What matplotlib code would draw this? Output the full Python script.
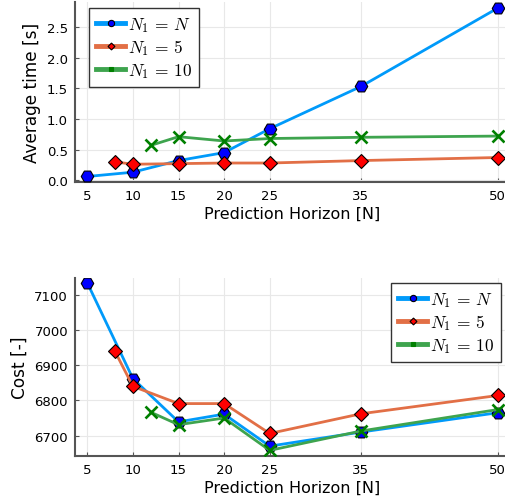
import numpy as np
import matplotlib.pyplot as plt
from matplotlib.lines import Line2D

plt.rcParams['mathtext.fontset'] = 'cm'

# horizons
x_full = [5, 10, 15, 20, 25, 35, 50]
x_n5 = [8, 10, 15, 20, 25, 35, 50]
x_n10 = [12, 15, 20, 25, 35, 50]
xticks = [5, 10, 15, 20, 25, 35, 50]

# average solve time [s]
time_full = [0.06, 0.13, 0.32, 0.45, 0.84, 1.53, 2.81]
time_n5 = [0.30, 0.26, 0.27, 0.28, 0.28, 0.32, 0.37]
time_n10 = [0.57, 0.71, 0.64, 0.68, 0.70, 0.72]

# cost
cost_full = [7134, 6862, 6739, 6761, 6670, 6710, 6765]
cost_n5 = [6941, 6840, 6791, 6791, 6706, 6762, 6814]
cost_n10 = [6766, 6731, 6750, 6658, 6713, 6774]

labels = [r'$N_1\,=\,N$', r'$N_1\,=\,5$', r'$N_1\,=\,10$']

c_blue = '#009AFA'
c_red = '#E26F46'
c_green = '#3EA44E'

W, H = 505.0, 502.0
AX_W = 435.0


def style_axes(ax):
    for s in ['top', 'right']:
        ax.spines[s].set_visible(False)
    for s in ['left', 'bottom']:
        ax.spines[s].set_color('#555555')
        ax.spines[s].set_linewidth(1.5)
    ax.grid(True, color='#e8e8e8', linewidth=0.8)
    ax.set_axisbelow(True)
    ax.tick_params(direction='in', length=3, color='#555555', labelsize=9.5, pad=5)
    ax.set_xticks(xticks)
    ax.set_xlim(3.65, 51.35)
    ax.set_xlabel('Prediction Horizon [N]', fontsize=11.5, labelpad=3)


def draw(ax, yf, y5, y10):
    ax.plot(x_full, yf, color=c_blue, lw=2.0, marker='H', ms=9,
            mfc='#0000FF', mec='black', mew=0.8, zorder=3)
    ax.plot(x_n5, y5, color=c_red, lw=2.0, marker='D', ms=7,
            mfc='#FF0000', mec='black', mew=0.8, zorder=4)
    ax.plot(x_n10, y10, color=c_green, lw=2.0, marker='x', ms=8,
            mec='#008000', mew=1.9, zorder=5)


def legend(ax, left_px, top_px, ax_h):
    handles = [
        Line2D([], [], color=c_blue, lw=3.5, marker='o', ms=4.5,
               mfc='#0000FF', mec='black', mew=0.8),
        Line2D([], [], color=c_red, lw=3.5, marker='D', ms=3.5,
               mfc='#FF0000', mec='black', mew=0.8),
        Line2D([], [], color=c_green, lw=3.5, marker='s', ms=3.5,
               mfc='#008000', mec='#008000', mew=0.8),
    ]
    leg = ax.legend(handles, labels, loc='upper left',
                    bbox_to_anchor=(left_px / AX_W, 1 - top_px / ax_h),
                    fontsize=12.5, fancybox=False, framealpha=1,
                    edgecolor='#333333', handlelength=1.7, handletextpad=0.15,
                    borderpad=0.4, labelspacing=0.2, borderaxespad=0)
    leg.get_frame().set_linewidth(1.0)


fig = plt.figure(figsize=(5.05, 5.02), dpi=100)

ax1 = fig.add_axes([75 / W, 1 - 183 / H, AX_W / W, 180 / H])
style_axes(ax1)
draw(ax1, time_full, time_n5, time_n10)
ax1.set_ylim(-0.03, 2.91)
ax1.set_yticks([0.0, 0.5, 1.0, 1.5, 2.0, 2.5])
ax1.set_yticklabels(['0.0', '0.5', '1.0', '1.5', '2.0', '2.5'])
ax1.set_ylabel('Average time [s]', fontsize=12.2, labelpad=4)
legend(ax1, 89 - 75, 9 - 3, 180)

ax2 = fig.add_axes([75 / W, 1 - 457 / H, AX_W / W, 178 / H])
style_axes(ax2)
draw(ax2, cost_full, cost_n5, cost_n10)
ax2.set_ylim(6642, 7148)
ax2.set_yticks([6700, 6800, 6900, 7000, 7100])
ax2.set_ylabel('Cost [-]', fontsize=12.2, labelpad=4)
legend(ax2, 391 - 75, 284 - 279, 178)

fig.savefig('out.png', dpi=100)
